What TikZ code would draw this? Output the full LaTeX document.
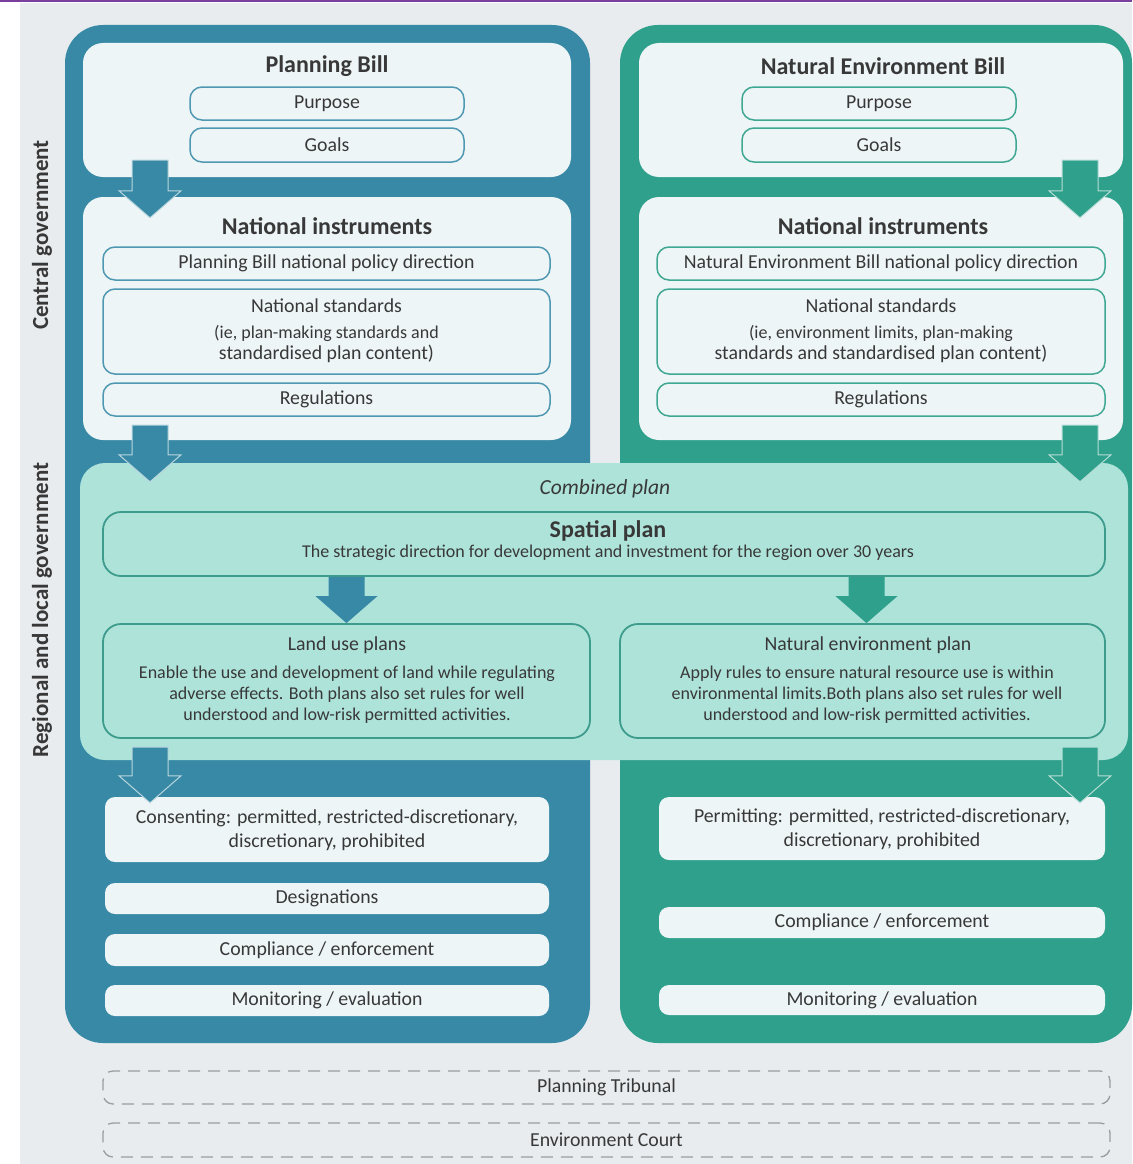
\documentclass[tikz,border=0pt]{standalone}
\usepackage{fontspec}
\setmainfont{Carlito}
\usetikzlibrary{calc}
\definecolor{pbblue}{HTML}{3889A5}
\definecolor{negreen}{HTML}{2EA08B}
\definecolor{panelw}{HTML}{EEF5F7}
\definecolor{combo}{HTML}{AEE3DA}
\definecolor{bgrey}{HTML}{E8ECEF}
\definecolor{txt}{HTML}{383838}
\definecolor{pbline}{HTML}{4E98B2}
\definecolor{neline}{HTML}{3FA893}
\definecolor{tealline}{HTML}{3E9C8C}
\definecolor{courtgrey}{HTML}{9A9C9E}
\definecolor{topline}{HTML}{7A3E9D}
\newcommand\blockarr[4][draw=none]{%
  \path[fill=#2,#1] let \p1=#3, \p2=#4 in
    (\x1-18pt,\y1) -- (\x1+18pt,\y1) -- (\x1+18pt,\y2+27pt) -- (\x1+31pt,\y2+27pt)
    -- (\x1,\y2) -- (\x1-31pt,\y2+27pt) -- (\x1-18pt,\y2+27pt) -- cycle;}
\newcommand\bodyfont{\fontsize{19.8}{24}\selectfont}
\newcommand\smallfont{\fontsize{18}{20}\selectfont}
\begin{document}
\begin{tikzpicture}[x=1pt,y=-1pt,
  outer/.style={rounded corners=38,inner sep=0},
  panel/.style={fill=panelw,rounded corners=20,inner sep=0},
  pbitem/.style={draw=pbline,line width=1.5,fill=panelw,rounded corners=12,inner sep=0,
    minimum height=33,text=txt,font=\bodyfont,align=center},
  neitem/.style={pbitem,draw=neline},
  plan/.style={draw=tealline,line width=1.8,fill=combo,rounded corners=18,inner sep=0},
  slab/.style={fill=panelw,rounded corners=10,inner sep=0,align=center,text=txt,
    font=\bodyfont,minimum height=31},
  court/.style={draw=courtgrey,dash pattern=on 12pt off 8pt,line width=1.3,
    rounded corners=10,minimum height=33,minimum width=1007,inner sep=0,text=txt,font=\bodyfont},
  title/.style={font=\bfseries\fontsize{24}{28}\selectfont,text=txt,inner sep=0},
  side/.style={font=\bfseries\fontsize{23}{26}\selectfont,text=txt,rotate=90,inner sep=0},
  body/.style={font=\fontsize{18}{21}\selectfont,text=txt,align=center,inner sep=0}]
\useasboundingbox (0,0) rectangle (1132,1164);
\fill[white] (0,0) rectangle (1132,1164);
\fill[bgrey] (20,3) rectangle (1132,1164);
\fill[topline] (0,0) rectangle (1132,2.5);
\node[side] (central) at (42,235) {Central government};
\node[side] (regional) at (42,610) {Regional and local government};
\node[outer,fill=pbblue,minimum width=525,minimum height=1018] (pbcol) at (327.5,534) {};
\node[outer,fill=negreen,minimum width=512,minimum height=1018] (necol) at (876,534) {};
\coordinate (lcol) at (150,0);
\coordinate (rcol) at (1080,0);
% planning bill column
\node[panel,minimum width=488,minimum height=134] (pbill) at (327,110) {};
\node[title] (pbillt) at (327,66) {Planning Bill};
\node[pbitem,minimum width=274] (pbpurp) at (327,103.5) {Purpose};
\node[pbitem,minimum width=274,minimum height=34] (pbgoal) at (327,145) {Goals};
\node[panel,minimum width=488,minimum height=243] (pbnat) at (327,318.5) {};
\node[title] (pbnatt) at (327,226) {National instruments};
\node[pbitem,minimum width=447] (pbdir) at (326.5,263.5) {Planning Bill national policy direction};
\node[pbitem,minimum width=447,minimum height=85,text depth=4] (pbstd) at (326.5,331.5) {National standards\\[2pt]
  \smallfont (ie, plan-making standards and\\[-3pt]standardised plan content)};
\node[pbitem,minimum width=447] (pbreg) at (326.5,399.5) {Regulations};
% natural environment bill column
\node[panel,minimum width=484,minimum height=134] (nebill) at (881,110) {};
\node[title] (nebillt) at (883,66) {Natural Environment Bill};
\node[neitem,minimum width=274] (nepurp) at (879,103.5) {Purpose};
\node[neitem,minimum width=274,minimum height=34] (negoal) at (879,145) {Goals};
\node[panel,minimum width=484,minimum height=243] (nenat) at (881,318.5) {};
\node[title] (nenatt) at (883,226) {National instruments};
\node[neitem,minimum width=448] (nedir) at (881,263.5) {Natural Environment Bill national policy direction};
\node[neitem,minimum width=448,minimum height=85,text depth=4] (nestd) at (881,331.5) {National standards\\[2pt]
  \smallfont (ie, environment limits, plan-making\\[-3pt]standards and standardised plan content)};
\node[neitem,minimum width=448] (nereg) at (881,399.5) {Regulations};
% combined plan
\node[fill=combo,rounded corners=25,inner sep=0,minimum width=1048,minimum height=297] (combo) at (604,611.5) {};
\node[font=\itshape\fontsize{21.5}{24}\selectfont,text=txt,inner sep=0] (combot) at (605,489) {Combined plan};
\node[plan,minimum width=1002,minimum height=64] (spatial) at (604,544) {};
\node[title] (spatialt) at (608,531) {Spatial plan};
\node[body] (spatialb) at (608,553)
  {The strategic direction for development and investment for the region over 30 years};
\node[plan,minimum width=487,minimum height=114] (landuse) at (346.5,681) {};
\node[body,font=\bodyfont] (landuset) at (347,645) {Land use plans};
\node[body] (landuseb) at (347,695) {Enable the use and development of land while regulating\\
  adverse effects. Both plans also set rules for well\\understood and low-risk permitted activities.};
\node[plan,minimum width=485,minimum height=114] (natplan) at (862.5,681) {};
\node[body,font=\bodyfont] (natplant) at (868,645) {Natural environment plan};
\node[body] (natplanb) at (867,695) {Apply rules to ensure natural resource use is within\\
  environmental limits.Both plans also set rules for well\\understood and low-risk permitted activities.};
% lower boxes
\node[slab,minimum width=444,minimum height=65,text depth=2] (consent) at (327,829.5)
  {Consenting: permitted, restricted-discretionary,\\discretionary, prohibited};
\node[slab,minimum width=444] (desig) at (327,898.5) {Designations};
\node[slab,minimum width=444,minimum height=32] (pbcomp) at (327,950) {Compliance / enforcement};
\node[slab,minimum width=444] (pbmon) at (327,1000.5) {Monitoring / evaluation};
\node[slab,minimum width=446,minimum height=63,text depth=2] (permit) at (882,828.5)
  {Permitting: permitted, restricted-discretionary,\\discretionary, prohibited};
\node[slab,minimum width=446] (necomp) at (882,922.5) {Compliance / enforcement};
\node[slab,minimum width=446,minimum height=30] (nemon) at (882,1000) {Monitoring / evaluation};
\node[court] (tribunal) at (606.5,1087.5) {Planning Tribunal};
\node[court,minimum height=34] (envcourt) at (606.5,1140) {Environment Court};
% arrows
\blockarr[draw=pbblue!35!white,line width=1]{pbblue}{($(pbill.south -| lcol)+(0,-17)$)}{($(pbnat.north -| lcol)+(0,21)$)}
\blockarr[draw=pbblue!35!white,line width=1]{pbblue}{($(pbnat.south -| lcol)+(0,-15)$)}{($(combo.north -| lcol)+(0,19)$)}
\blockarr[draw=pbblue!35!white,line width=1]{pbblue}{($(combo.south -| lcol)+(0,-13)$)}{($(consent.north -| lcol)+(0,6)$)}
\blockarr[draw=negreen!35!white,line width=1]{negreen}{($(nebill.south -| rcol)+(0,-17)$)}{($(nenat.north -| rcol)+(0,21)$)}
\blockarr[draw=negreen!35!white,line width=1]{negreen}{($(nenat.south -| rcol)+(0,-15)$)}{($(combo.north -| rcol)+(0,19)$)}
\blockarr[draw=negreen!35!white,line width=1]{negreen}{($(combo.south -| rcol)+(0,-13)$)}{($(permit.north -| rcol)+(0,6)$)}
\blockarr{pbblue}{(spatial.south -| landuse.north)}{(landuse.north)}
\blockarr{negreen}{($(spatial.south -| natplan.north)+(4,0)$)}{($(natplan.north)+(4,0)$)}
\end{tikzpicture}
\end{document}
